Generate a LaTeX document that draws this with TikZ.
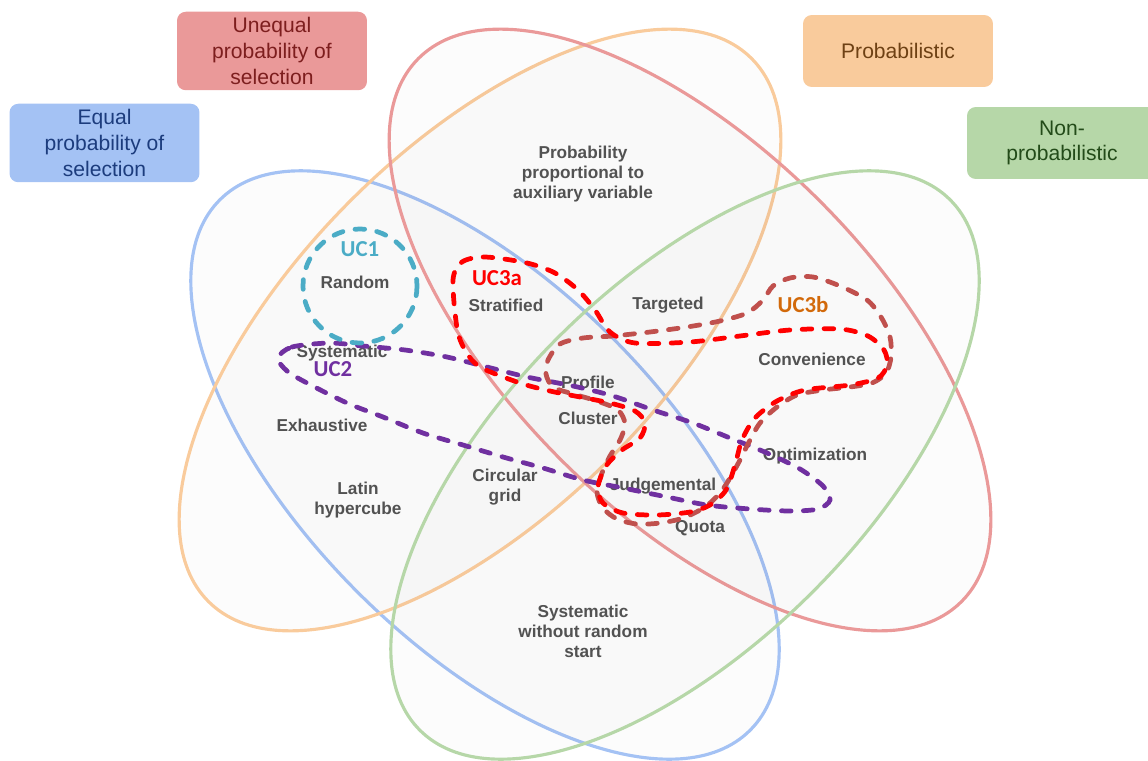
\documentclass[tikz,border=0pt]{standalone}
\usepackage{fontspec}
\setmainfont{Liberation Sans}
\newfontfamily\ucfont{Carlito}
\usetikzlibrary{positioning}
\definecolor{eqblue}{RGB}{164,194,244}
\definecolor{uneqred}{RGB}{234,153,153}
\definecolor{proborange}{RGB}{249,203,156}
\definecolor{nonprobgreen}{RGB}{182,215,168}
\definecolor{eqbluetext}{RGB}{28,60,125}
\definecolor{uneqredtext}{RGB}{125,30,30}
\definecolor{probtext}{RGB}{110,65,20}
\definecolor{nonprobtext}{RGB}{35,75,25}
\definecolor{methodgray}{RGB}{82,82,82}
\definecolor{ucone}{RGB}{75,172,198}
\definecolor{uctwo}{RGB}{112,48,160}
\definecolor{ucthreea}{RGB}{255,0,0}
\definecolor{ucthreeb}{RGB}{192,80,77}
\definecolor{ucthreebtext}{RGB}{210,105,10}

\begin{document}
\begin{tikzpicture}[x=0.02cm, y=-0.02cm,
  vennring/.style={line width=1.8pt, fill=black, fill opacity=0.012},
  catbox/.style={rectangle, rounded corners=5pt, minimum width=3.8cm, minimum height=1.44cm, align=center, font=\fontsize{12}{14.6}\selectfont},
  method/.style={align=center, text=methodgray, font=\bfseries\fontsize{9.8}{11.3}\selectfont},
  uclabel/.style={font=\ucfont\bfseries\fontsize{13}{15}\selectfont},
  usecase/.style={line width=2.7pt, line cap=round, dash pattern=on 5.5pt off 7pt}]
\useasboundingbox (0,0) rectangle (1148,760);
\path[vennring, draw=eqblue, rotate around={-45:(485,465)}] (485,465) ellipse [x radius=375, y radius=180];
\path[vennring, draw=proborange, rotate around={45:(480,330)}] (480,330) ellipse [x radius=384, y radius=183];
\path[vennring, draw=uneqred, rotate around={-45:(690,330)}] (690,330) ellipse [x radius=384, y radius=183];
\path[vennring, draw=nonprobgreen, rotate around={45:(685,465)}] (685,465) ellipse [x radius=375, y radius=180];

\node[catbox, fill=uneqred, text=uneqredtext] (unequal) at (272,51) {Unequal\\probability of\\selection};
\node[catbox, fill=eqblue, text=eqbluetext] (equal) at (104.5,143) {Equal\\probability of\\selection};
\node[catbox, fill=proborange, text=probtext] (probabilistic) at (898,51) {Probabilistic};
\node[catbox, fill=nonprobgreen, text=nonprobtext] (nonprob) at (1062,143) {Non-\\probabilistic};

\node[method] (pps) at (583,174) {Probability\\proportional to\\auxiliary variable};
\node[method] (random) at (355,282) {Random};
\node[method] (stratified) at (506,305) {Stratified};
\node[method] (targeted) at (668,305) {Targeted};
\node[method] (systematic) at (342,353) {Systematic};
\node[method] (convenience) at (812,359) {Convenience};
\node[method] (profile) at (588,382) {Profile};
\node[method] (cluster) at (588,418) {Cluster};
\node[method] (exhaustive) at (322,425) {Exhaustive};
\node[method] (optimization) at (815,456) {Optimization};
\node[method] (latin) at (358,500) {Latin\\hypercube};
\node[method] (circular) at (505,487) {Circular\\grid};
\node[method] (judgemental) at (663,486) {Judgemental};
\node[method] (quota) at (700,528) {Quota};
\node[method] (sysnorand) at (583,631) {Systematic\\without random\\start};

\draw[usecase, uctwo] plot[smooth cycle] coordinates {(278,358) (292,347) (330,343) (363,346) (405,350) (447,357) (487,367) (527,377) (573,386) (613,396) (653,410) (693,423) (730,438) (767,453) (800,469) (823,486) (830,500) (818,509) (790,511) (750,509) (707,505) (667,497) (623,488) (583,480) (543,468) (503,457) (463,445) (423,433) (383,417) (347,403) (307,383) (287,371)};
\draw[usecase, ucthreeb] plot[smooth cycle] coordinates {(548,360) (560,344) (583,338) (613,336) (650,332) (687,327) (720,321) (747,313) (763,300) (773,286) (790,278) (813,277) (840,286) (867,300) (881,317) (890,337) (891,357) (886,373) (872,383) (850,387) (823,390) (797,395) (777,407) (760,423) (749,442) (740,460) (730,478) (720,493) (705,507) (683,518) (660,523) (637,524) (617,519) (603,508) (597,492) (602,473) (610,456) (620,440) (625,424) (618,410) (597,401) (573,394) (553,387) (546,374)};
\draw[usecase, ucthreea] plot[smooth cycle] coordinates {(453,280) (462,262) (485,257) (527,263) (555,273) (578,290) (595,310) (610,332) (635,343) (690,342) (740,336) (790,330) (840,329) (868,336) (884,350) (887,365) (878,378) (850,385) (805,390) (777,401) (755,418) (742,440) (735,465) (726,490) (710,505) (690,512) (657,515) (623,513) (603,503) (598,487) (606,466) (622,450) (640,438) (645,423) (635,411) (610,403) (580,397) (550,391) (520,383) (480,367) (465,350) (457,328)};
\draw[usecase, ucone] (360,286) circle [radius=57];

\node[uclabel, text=ucone] (uc1) at (360,249) {UC1};
\node[uclabel, text=uctwo] (uc2) at (333,369) {UC2};
\node[uclabel, text=ucthreea] (uc3a) at (497,278) {UC3a};
\node[uclabel, text=ucthreebtext] (uc3b) at (803,305) {UC3b};
\end{tikzpicture}
\end{document}
